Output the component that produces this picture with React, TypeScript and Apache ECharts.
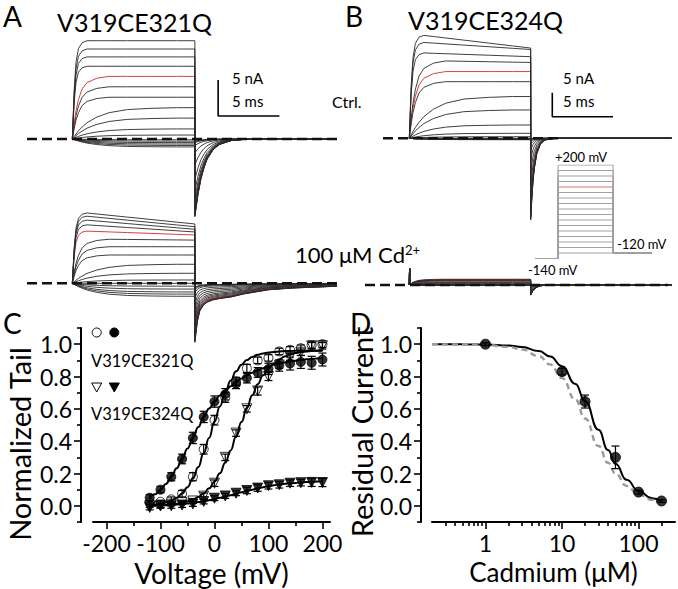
import React, { useEffect, useRef } from "react";
import * as echarts from "echarts";

const FONT = "Lato";
const RED = "#d42a2a";
const TRACE = "#2a2a2a";

// ---------- Panels A/B: current traces ----------
const VOLTAGES = [-120, -100, -80, -60, -40, -20, 0, 20, 40, 60, 80, 100, 120, 140, 160, 180, 200];
const RED_VOLTAGE = 120;
const PULSE_END = 10; // ms

const RISE_T = [0, 0.15, 0.3, 0.5, 0.8, 1.2, 2, 3, 4.5, 6.5, 8.5, 10];
const RISE_FAST = [0, 0.5, 0.78, 0.92, 0.98, 1, 1, 1, 1, 1, 1, 1];
const RISE_MID = [0, 0.25, 0.45, 0.63, 0.8, 0.9, 0.97, 1, 1, 1, 1, 1];
const RISE_SLOW = [0, 0.08, 0.16, 0.26, 0.38, 0.52, 0.7, 0.84, 0.94, 0.98, 1, 1];
const RISE_SHAPES = [RISE_FAST, RISE_MID, RISE_SLOW];

// A control (nA)
const A_CTRL_PLATEAU = [-1.1, -0.9, -0.7, -0.5, -0.3, -0.1, 0.55, 1.4, 2.9, 4.35, 5.8, 7.25, 8.7, 10.1, 11.4, 12.5, 13.65];
const A_CTRL_TAIL = [-0.3, -0.35, -0.5, -0.9, -1.9, -3.6, -5.6, -7.2, -8.3, -9.1, -9.6, -9.9, -10.1, -10.3, -10.5, -10.7, -10.8];
const A_CTRL_RISE = [2, 2, 2, 2, 2, 2, 2, 2, 2, 2, 1, 1, 1, 0, 0, 0, 0];
const A_CTRL_TAIL_T = [0, 0.25, 0.5, 0.75, 1, 1.5, 2, 3, 4, 11.6];
const A_CTRL_TAIL_SHAPE = [1, 0.72, 0.51, 0.37, 0.26, 0.135, 0.07, 0.018, 0.005, 0];

// A + 100 uM Cd
const A_CD_PEAK = [-1.8, -1.5, -1.2, -0.8, -0.4, 0, 0.46, 1.39, 2.64, 3.93, 5.08, 6.15, 7.26, 8.14, 8.8, 9.35, 9.8];
const A_CD_END = [-1.8, -1.5, -1.2, -0.8, -0.4, 0, 0.46, 1.39, 2.64, 3.93, 5.08, 6.0, 6.71, 7.13, 7.5, 7.86, 8.24];
const A_CD_TAIL = [-0.6, -0.7, -0.9, -1.3, -2.0, -2.8, -3.6, -4.4, -5.2, -5.8, -6.4, -6.9, -7.3, -7.6, -7.9, -8.1, -8.2];
const A_CD_RISE = [2, 2, 2, 2, 2, 2, 2, 2, 2, 1, 1, 1, 0, 0, 0, 0, 0];
const A_CD_TAIL_T = [0, 0.2, 0.4, 0.7, 1, 1.5, 2, 3, 4, 6, 8, 11.6];
const A_CD_TAIL_SHAPE = [1, 0.65, 0.47, 0.37, 0.32, 0.28, 0.26, 0.23, 0.18, 0.11, 0.08, 0.05];

// B control
const B_CTRL_PEAK = [-0.3, -0.25, -0.2, -0.15, -0.1, 0, 0.33, 1.04, 2.77, 5.9, 8.7, 11.8, 13.9, 16.2, 17.8, 20.0, 21.5];
const B_CTRL_END = [-0.3, -0.25, -0.2, -0.15, -0.1, 0, 0.33, 1.04, 2.77, 5.9, 8.7, 11.8, 13.9, 15.8, 17.0, 18.5, 18.8];
const B_CTRL_TAIL = [-0.05, -0.07, -0.15, -0.3, -0.6, -1.3, -2.5, -4.5, -7.3, -10.3, -12.8, -14.5, -15.4, -16, -16.4, -16.8, -17];
const B_CTRL_RISE = [2, 2, 2, 2, 2, 2, 2, 2, 2, 2, 2, 1, 1, 1, 0, 0, 0];
const B_TAIL_T = [0, 0.1, 0.2, 0.3, 0.5, 0.8, 1.2, 2, 11.6];
const B_CTRL_TAIL_SHAPE = [1, 0.72, 0.51, 0.37, 0.19, 0.07, 0.02, 0, 0];

// B + 100 uM Cd
const B_CD_PLATEAU = [0, 0, 0, 0, 0, 0, 0.05, 0.1, 0.2, 0.35, 0.5, 0.65, 0.8, 0.9, 1.0, 1.1, 1.2];
const B_CD_TAIL = [0, 0, -0.05, -0.1, -0.2, -0.35, -0.6, -0.9, -1.2, -1.5, -1.7, -1.85, -1.95, -2.0, -2.05, -2.1, -2.1];
const B_CD_TAIL_SHAPE = [1, 0.75, 0.55, 0.4, 0.22, 0.08, 0.02, 0, 0];
const B_CD_SPIKE = 3.5;

// Scale bars (ms, nA)
const A_BAR = { t: 11.9, i: 3.2, dt: 5, di: 5 };
const B_BAR = { t: 11.78, i: 4.5, dt: 5, di: 5 };

// Voltage protocol (mV)
const PROTO_HOLD = -140;
const PROTO_TAIL = -120;
const PROTO_T = [-4.2, 0, 10, 17];

// ---------- Panel C ----------
const C_VOLT = [-120, -100, -80, -60, -40, -20, 0, 20, 40, 60, 80, 100, 120, 140, 160, 180, 200];
const C_FILLED_CIRCLE = [0.05, 0.1, 0.18, 0.29, 0.42, 0.55, 0.645, 0.69, 0.755, 0.79, 0.825, 0.847, 0.868, 0.88, 0.89, 0.885, 0.905];
const C_FILLED_CIRCLE_ERR = [0.02, 0.02, 0.025, 0.03, 0.035, 0.035, 0.035, 0.035, 0.03, 0.03, 0.03, 0.035, 0.035, 0.04, 0.04, 0.04, 0.04];
const C_OPEN_CIRCLE = [0.02, 0.025, 0.04, 0.075, 0.18, 0.35, 0.53, 0.67, 0.77, 0.85, 0.9, 0.915, 0.955, 0.965, 0.975, 0.995, 1.0];
const C_OPEN_CIRCLE_ERR = [0.01, 0.01, 0.015, 0.02, 0.025, 0.03, 0.03, 0.03, 0.025, 0.025, 0.02, 0.02, 0.02, 0.02, 0.02, 0.02, 0.02];
const C_OPEN_TRI = [0.0, 0.0, 0.01, 0.02, 0.03, 0.06, 0.14, 0.3, 0.45, 0.6, 0.71, 0.8, 0.87, 0.92, 0.95, 0.99, 0.99];
const C_OPEN_TRI_ERR = [0.01, 0.01, 0.01, 0.01, 0.015, 0.02, 0.02, 0.02, 0.02, 0.02, 0.025, 0.025, 0.02, 0.02, 0.02, 0.02, 0.02];
const C_FILLED_TRI = [-0.01, 0.0, 0.0, 0.005, 0.012, 0.027, 0.047, 0.061, 0.078, 0.095, 0.11, 0.124, 0.13, 0.14, 0.143, 0.145, 0.144];
const C_FILLED_TRI_ERR = [0.015, 0.015, 0.015, 0.015, 0.015, 0.015, 0.015, 0.015, 0.015, 0.02, 0.02, 0.02, 0.02, 0.02, 0.02, 0.025, 0.025];

const C_FIT_VOLT = [-120, -110, -100, -90, -80, -70, -60, -50, -40, -30, -20, -10, 0, 10, 20, 30, 40, 50, 60, 70, 80, 90, 100, 110, 120, 130, 140, 150, 160, 170, 180, 190, 200];
const C_FIT_FILLED_CIRCLE = [0.05, 0.072, 0.1, 0.135, 0.18, 0.232, 0.29, 0.355, 0.42, 0.487, 0.55, 0.602, 0.645, 0.682, 0.713, 0.74, 0.765, 0.787, 0.806, 0.823, 0.838, 0.851, 0.862, 0.872, 0.88, 0.887, 0.893, 0.898, 0.902, 0.906, 0.909, 0.912, 0.914];
const C_FIT_OPEN_CIRCLE = [0.006, 0.009, 0.014, 0.021, 0.033, 0.05, 0.076, 0.115, 0.17, 0.24, 0.325, 0.42, 0.52, 0.615, 0.702, 0.775, 0.832, 0.873, 0.902, 0.921, 0.935, 0.943, 0.949, 0.952, 0.955, 0.957, 0.958, 0.959, 0.959, 0.96, 0.96, 0.96, 0.96];
const C_FIT_OPEN_TRI = [0.002, 0.003, 0.004, 0.006, 0.009, 0.013, 0.019, 0.027, 0.038, 0.055, 0.077, 0.108, 0.149, 0.201, 0.266, 0.343, 0.429, 0.518, 0.605, 0.684, 0.752, 0.807, 0.85, 0.882, 0.906, 0.924, 0.936, 0.945, 0.951, 0.955, 0.958, 0.96, 0.962];
const C_FIT_FILLED_TRI = [0.0, 0.001, 0.002, 0.003, 0.005, 0.008, 0.011, 0.014, 0.018, 0.023, 0.028, 0.035, 0.042, 0.05, 0.058, 0.066, 0.075, 0.084, 0.093, 0.1, 0.108, 0.115, 0.122, 0.127, 0.132, 0.136, 0.139, 0.142, 0.145, 0.147, 0.148, 0.15, 0.151];

const C_X_TICKS = [-200, -100, 0, 100, 200];
const C_X_MINOR = [-150, -50, 50, 150];
const Y_TICKS = [0, 0.2, 0.4, 0.6, 0.8, 1.0];
const Y_MINOR = [-0.1, 0.1, 0.3, 0.5, 0.7, 0.9, 1.1];

// ---------- Panel D ----------
const D_CONC = [1, 10, 20, 50, 100, 200];
const D_RESID = [1.0, 0.83, 0.645, 0.3, 0.085, 0.03];
const D_ERR = [0.01, 0.02, 0.04, 0.07, 0.012, 0.008];
const D_FIT_CONC = [0.2, 0.5, 1, 2, 3, 5, 7, 10, 15, 20, 30, 40, 50, 70, 100, 150, 200];
const D_FIT_SOLID = [1.0, 0.999, 0.998, 0.991, 0.982, 0.957, 0.924, 0.864, 0.754, 0.647, 0.47, 0.345, 0.26, 0.161, 0.092, 0.047, 0.028];
const D_FIT_DASHED = [1.0, 0.998, 0.995, 0.983, 0.967, 0.926, 0.875, 0.79, 0.657, 0.54, 0.37, 0.266, 0.2, 0.123, 0.071, 0.037, 0.023];
const D_X_TICKS = [1, 10, 100];
const D_X_MINOR = [0.3, 0.4, 0.5, 0.6, 0.7, 0.8, 0.9, 2, 3, 4, 5, 6, 7, 8, 9, 20, 30, 40, 50, 60, 70, 80, 90, 200];
const D_X_MIN = 0.2;
const D_X_MAX = 300;

// ---------- helpers ----------
function buildTrace(peak: number, end: number, tail: number, riseIdx: number, tailT: number[], tailShape: number[], spike = 0) {
  const pts: number[][] = [];
  RISE_T.forEach((t, i) => {
    const level = peak + ((end - peak) * Math.max(0, t - 1)) / 9;
    pts.push([t, RISE_SHAPES[riseIdx][i] * level]);
    if (i === 0 && spike) {
      pts.push([0.02, spike]);
      pts.push([0.1, 0]);
    }
  });
  tailT.forEach((dt, j) => pts.push([PULSE_END + dt, tail * tailShape[j]]));
  return pts;
}

function traceSeries(axis: number, traces: number[][][]) {
  return traces.map((data, i) => ({
    type: "line",
    xAxisIndex: axis,
    yAxisIndex: axis,
    data,
    symbol: "none",
    silent: true,
    z: 3,
    lineStyle: { width: 0.9, color: VOLTAGES[i] === RED_VOLTAGE ? RED : TRACE },
  }));
}

function baseline(axis: number, t0: number, t1: number) {
  return {
    type: "line",
    xAxisIndex: axis,
    yAxisIndex: axis,
    data: [[t0, 0], [t1, 0]],
    symbol: "none",
    silent: true,
    z: 6,
    lineStyle: { width: 2.4, color: "#111", type: [10, 5] },
  };
}

function scaleBar(axis: number, b: { t: number; i: number; dt: number; di: number }) {
  return {
    type: "line",
    xAxisIndex: axis,
    yAxisIndex: axis,
    data: [[b.t, b.i + b.di], [b.t, b.i], [b.t + b.dt, b.i]],
    symbol: "none",
    silent: true,
    z: 6,
    lineStyle: { width: 1.6, color: "#000" },
  };
}

function errorBars(axis: number, xs: number[], ys: number[], errs: number[], z = 5) {
  return {
    type: "custom",
    xAxisIndex: axis,
    yAxisIndex: axis,
    silent: true,
    z,
    encode: { x: 0, y: 1 },
    data: xs.map((x, i) => [x, ys[i], errs[i]]),
    renderItem: (params: any, api: any) => {
      const x = api.value(0);
      const y = api.value(1);
      const e = api.value(2);
      const hi = api.coord([x, y + e]);
      const lo = api.coord([x, y - e]);
      const style = { stroke: "#000", lineWidth: 1.2 };
      const c = 4;
      return {
        type: "group",
        children: [
          { type: "line", shape: { x1: hi[0], y1: hi[1], x2: lo[0], y2: lo[1] }, style },
          { type: "line", shape: { x1: hi[0] - c, y1: hi[1], x2: hi[0] + c, y2: hi[1] }, style },
          { type: "line", shape: { x1: lo[0] - c, y1: lo[1], x2: lo[0] + c, y2: lo[1] }, style },
        ],
      };
    },
  };
}

const hiddenX = (gridIndex: number, min: number, max: number) => ({ type: "value", gridIndex, min, max, show: false });
const hiddenY = (gridIndex: number, min: number, max: number) => ({ type: "value", gridIndex, min, max, show: false });

const axisLineStyle = { color: "#000", width: 2 };
const tickLineStyle = { color: "#000", width: 1.6 };

function mainAxis(gridIndex: number, min: number, max: number, ticks: number[], formatter: (v: number) => string, extra: any) {
  return {
    type: "value",
    gridIndex,
    min,
    max,
    axisLine: { show: true, onZero: false, lineStyle: axisLineStyle },
    axisTick: { show: true, inside: false, length: 7, customValues: ticks, lineStyle: tickLineStyle },
    axisLabel: { show: true, customValues: ticks, formatter, fontSize: 23, color: "#000", fontFamily: FONT, margin: 9 },
    splitLine: { show: false },
    minorTick: { show: false },
    ...extra,
  };
}

function minorAxis(gridIndex: number, min: number, max: number, ticks: number[], extra: any) {
  return {
    type: "value",
    gridIndex,
    min,
    max,
    axisLine: { show: false, onZero: false },
    axisTick: { show: true, inside: false, length: 4, customValues: ticks, lineStyle: tickLineStyle },
    axisLabel: { show: false },
    splitLine: { show: false },
    ...extra,
  };
}

function text(x: number, y: number, str: string, size: number, extra: any = {}, el: any = {}) {
  return {
    type: "text",
    x,
    y,
    silent: true,
    ...el,
    style: { text: str, fill: "#000", fontSize: size, fontFamily: FONT, align: "left", verticalAlign: "middle", ...extra },
  };
}

function buildOption() {
  const aCtrl = VOLTAGES.map((_, i) =>
    buildTrace(A_CTRL_PLATEAU[i], A_CTRL_PLATEAU[i], A_CTRL_TAIL[i], A_CTRL_RISE[i], A_CTRL_TAIL_T, A_CTRL_TAIL_SHAPE)
  );
  const aCd = VOLTAGES.map((_, i) =>
    buildTrace(A_CD_PEAK[i], A_CD_END[i], A_CD_TAIL[i], A_CD_RISE[i], A_CD_TAIL_T, A_CD_TAIL_SHAPE)
  );
  const bCtrl = VOLTAGES.map((_, i) =>
    buildTrace(B_CTRL_PEAK[i], B_CTRL_END[i], B_CTRL_TAIL[i], B_CTRL_RISE[i], B_TAIL_T, B_CTRL_TAIL_SHAPE)
  );
  const bCd = VOLTAGES.map((_, i) =>
    buildTrace(B_CD_PLATEAU[i], B_CD_PLATEAU[i], B_CD_TAIL[i], 1, B_TAIL_T, B_CD_TAIL_SHAPE, B_CD_SPIKE)
  );

  const protocolSeries = VOLTAGES.map((v) => ({
    type: "line",
    xAxisIndex: 4,
    yAxisIndex: 4,
    symbol: "none",
    silent: true,
    z: 3,
    data: [
      [PROTO_T[0], PROTO_HOLD],
      [PROTO_T[1], PROTO_HOLD],
      [PROTO_T[1], v],
      [PROTO_T[2], v],
      [PROTO_T[2], PROTO_TAIL],
      [PROTO_T[3], PROTO_TAIL],
    ],
    lineStyle: { width: 1, color: v === RED_VOLTAGE ? "#e07070" : "#a0a0a0" },
  }));

  const cScatter = (ys: number[], symbol: string, filled: boolean, rotate = 0, size = 9) => ({
    type: "scatter",
    xAxisIndex: 5,
    yAxisIndex: 5,
    symbol,
    symbolRotate: rotate,
    symbolSize: size,
    silent: true,
    z: filled ? 6 : 3,
    data: C_VOLT.map((v, i) => [v, ys[i]]),
    itemStyle: { color: filled ? "#000" : "#fff", borderColor: "#000", borderWidth: 1 },
  });
  const cFit = (ys: number[]) => ({
    type: "line",
    xAxisIndex: 5,
    yAxisIndex: 5,
    symbol: "none",
    silent: true,
    smooth: true,
    smoothMonotone: "x",
    z: 5,
    data: C_FIT_VOLT.map((v, i) => [v, ys[i]]),
    lineStyle: { width: 2, color: "#000" },
  });

  const log = (v: number) => Math.log10(v);

  const series: any[] = [
    ...traceSeries(0, aCtrl),
    ...traceSeries(1, aCd),
    ...traceSeries(2, bCtrl),
    ...traceSeries(3, bCd),
    baseline(0, -3.7, 21.6),
    baseline(1, -3.7, 21.6),
    baseline(2, -2.17, 12.4),
    baseline(3, -3.65, 21.3),
    scaleBar(0, A_BAR),
    scaleBar(2, B_BAR),
    ...protocolSeries,
    // Panel C
    cScatter(C_OPEN_CIRCLE, "circle", false),
    cScatter(C_OPEN_TRI, "triangle", false, 180, 10),
    errorBars(5, C_VOLT, C_OPEN_CIRCLE, C_OPEN_CIRCLE_ERR, 4),
    errorBars(5, C_VOLT, C_OPEN_TRI, C_OPEN_TRI_ERR, 4),
    errorBars(5, C_VOLT, C_FILLED_CIRCLE, C_FILLED_CIRCLE_ERR, 4),
    errorBars(5, C_VOLT, C_FILLED_TRI, C_FILLED_TRI_ERR, 4),
    cFit(C_FIT_FILLED_CIRCLE),
    cFit(C_FIT_OPEN_CIRCLE),
    cFit(C_FIT_OPEN_TRI),
    cFit(C_FIT_FILLED_TRI),
    cScatter(C_FILLED_CIRCLE, "circle", true),
    cScatter(C_FILLED_TRI, "triangle", true, 180, 10),
    // Panel D
    {
      type: "line",
      xAxisIndex: 7,
      yAxisIndex: 7,
      symbol: "none",
      silent: true,
      smooth: true,
      smoothMonotone: "x",
      z: 4,
      data: D_FIT_CONC.map((c, i) => [log(c), D_FIT_SOLID[i]]),
      lineStyle: { width: 2, color: "#000" },
    },
    {
      type: "line",
      xAxisIndex: 7,
      yAxisIndex: 7,
      symbol: "none",
      silent: true,
      smooth: true,
      smoothMonotone: "x",
      z: 5,
      data: D_FIT_CONC.map((c, i) => [log(c), D_FIT_DASHED[i]]),
      lineStyle: { width: 2.4, color: "#9a9a9a", type: [6, 4] },
    },
    errorBars(7, D_CONC.map(log), D_RESID, D_ERR, 6),
    {
      type: "scatter",
      xAxisIndex: 7,
      yAxisIndex: 7,
      symbol: "circle",
      symbolSize: 10,
      silent: true,
      z: 7,
      data: D_CONC.map((c, i) => [log(c), D_RESID[i]]),
      itemStyle: { color: "#000", borderColor: "#000", borderWidth: 1 },
    },
  ];

  const fmt1 = (v: number) => v.toFixed(1);

  const xAxis = [
    hiddenX(0, -3.7, 21.6),
    hiddenX(1, -3.7, 21.6),
    hiddenX(2, -3.7, 21.6),
    hiddenX(3, -3.7, 21.6),
    hiddenX(4, -4.2, 17),
    mainAxis(5, -225, 214, C_X_TICKS, (v) => String(v), {
      position: "bottom",
      name: "Voltage (mV)",
      nameLocation: "middle",
      nameGap: 37,
      nameTextStyle: { fontSize: 28, color: "#000", fontFamily: FONT },
    }),
    minorAxis(5, -225, 214, C_X_MINOR, { position: "bottom" }),
    mainAxis(6, log(D_X_MIN), log(D_X_MAX), D_X_TICKS.map(log), (v) => String(Math.round(Math.pow(10, v))), {
      position: "bottom",
      name: "Cadmium (μM)",
      nameLocation: "middle",
      nameGap: 37,
      nameTextStyle: { fontSize: 26, color: "#000", fontFamily: FONT },
    }),
    minorAxis(6, log(D_X_MIN), log(D_X_MAX), D_X_MINOR.map(log), { position: "bottom" }),
  ];

  const yAxis = [
    hiddenY(0, -12, 15),
    hiddenY(1, -9, 11),
    hiddenY(2, -18, 23),
    hiddenY(3, -5, 5),
    hiddenY(4, -140, 200),
    mainAxis(5, -0.1, 1.1, Y_TICKS, fmt1, { position: "left", offset: 12 }),
    minorAxis(5, -0.1, 1.1, Y_MINOR, { position: "left", offset: 12 }),
    mainAxis(6, -0.1, 1.1, Y_TICKS, fmt1, { position: "left", offset: 11 }),
    minorAxis(6, -0.1, 1.1, Y_MINOR, { position: "left", offset: 11 }),
  ];

  const g = (left: number, top: number, width: number, height: number) => ({
    left,
    top,
    width,
    height,
    containLabel: false,
    outerBoundsMode: "none",
  });

  const graphic = [
    text(3, 16, "A", 28),
    text(345, 16, "B", 28),
    text(3, 323, "C", 28),
    text(350, 323, "D", 28),
    text(57, 22, "V319CE321Q", 25),
    text(408, 20, "V319CE324Q", 25),
    text(232, 78, "5 nA", 15),
    text(232, 101, "5 ms", 15),
    text(563, 78, "5 nA", 15),
    text(563, 101, "5 ms", 15),
    text(332, 101, "Ctrl.", 16),
    {
      type: "text",
      x: 295,
      y: 254,
      silent: true,
      style: {
        text: "100 μM Cd{s|2+}",
        fill: "#000",
        fontSize: 22,
        fontFamily: FONT,
        align: "left",
        verticalAlign: "middle",
        rich: { s: { fontSize: 13, fontFamily: FONT, fill: "#000", verticalAlign: "top", padding: [0, 0, 7, 0] } },
      },
    },
    text(555, 157, "+200 mV", 13),
    text(617, 244, "-120 mV", 13),
    text(528, 270, "-140 mV", 13),
    // axis titles (vertical)
    text(19, 444, "Normalized Tail", 29, { align: "center" }, { rotation: Math.PI / 2 }),
    text(361, 432, "Residual Current", 29, { align: "center" }, { rotation: Math.PI / 2 }),
    // Panel C legend
    { type: "circle", silent: true, shape: { cx: 96.7, cy: 332.5, r: 4.5 }, style: { fill: "#fff", stroke: "#000", lineWidth: 1 } },
    { type: "circle", silent: true, shape: { cx: 114.3, cy: 332.5, r: 4.5 }, style: { fill: "#000", stroke: "#000", lineWidth: 1 } },
    text(91, 361, "V319CE321Q", 16.5),
    {
      type: "polygon",
      silent: true,
      shape: { points: [[91.7, 383], [101.7, 383], [96.7, 392]] },
      style: { fill: "#fff", stroke: "#000", lineWidth: 1 },
    },
    {
      type: "polygon",
      silent: true,
      shape: { points: [[109.3, 383], [119.3, 383], [114.3, 392]] },
      style: { fill: "#000", stroke: "#000", lineWidth: 1 },
    },
    text(91, 414, "V319CE324Q", 16.5),
  ];

  return {
    animation: false,
    backgroundColor: "#fff",
    textStyle: { fontFamily: FONT },
    grid: [
      g(27, 31, 310, 194.4),
      g(27, 204.1, 310, 144),
      g(364.4, 27.9, 307.1, 196.8),
      g(364.4, 261, 307.1, 48),
      g(535, 165, 116.6, 93.5),
      g(93, 328, 237, 194),
      g(432, 328, 243, 194),
    ],
    xAxis,
    yAxis,
    series,
    graphic,
  };
}

export default function App() {
  const ref = useRef<HTMLDivElement>(null);
  useEffect(() => {
    if (!ref.current) return;
    const chart = echarts.init(ref.current, null, { renderer: "svg" });
    chart.setOption(buildOption() as any);
    return () => chart.dispose();
  }, []);
  return (
    <div
      ref={ref}
      style={{ position: "absolute", left: 0, top: 0, width: 678, height: 589, background: "#fff" }}
    />
  );
}
